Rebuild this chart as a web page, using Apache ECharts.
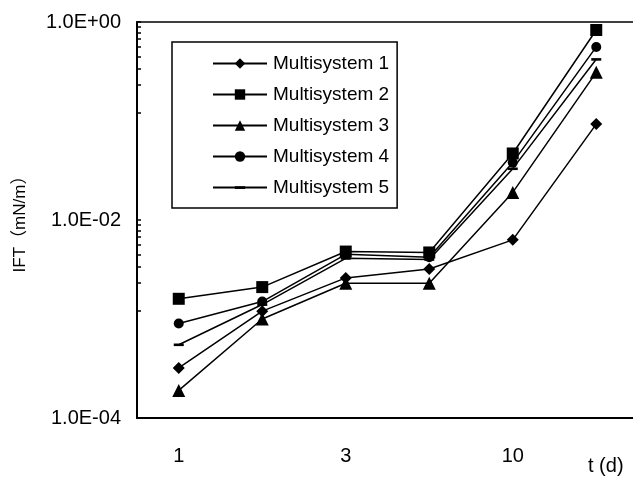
<!DOCTYPE html>
<html>
<head>
<meta charset="utf-8">
<script src="https://cdn.jsdelivr.net/npm/echarts@6/dist/echarts.min.js"></script>
<style>
  html, body { margin: 0; padding: 0; background: #fff; }
  #chart { width: 633px; height: 477px; }
</style>
</head>
<body>
<div id="chart"></div>
<script>
// t (d), only every other one is labelled
const days = ['1', '2', '3', '5', '10', '20'];
const names = ['Multisystem 1', 'Multisystem 2', 'Multisystem 3', 'Multisystem 4', 'Multisystem 5'];
const ms1 = [3.2e-4, 1.2e-3, 2.6e-3, 3.2e-3, 6.3e-3, 9.3e-2];
const ms2 = [1.6e-3, 2.1e-3, 4.8e-3, 4.7e-3, 4.7e-2, 0.83];
const ms3 = [1.9e-4, 1.0e-3, 2.3e-3, 2.3e-3, 1.9e-2, 0.31];
const ms4 = [9.0e-4, 1.5e-3, 4.5e-3, 4.2e-3, 3.8e-2, 0.56];
const ms5 = [5.5e-4, 1.4e-3, 4.1e-3, 4.0e-3, 3.3e-2, 0.42];

// short dash marker, square bounding box so it keeps its shape
const dash = 'path://M0,0M10,10M0,3.8H10V6.4H0Z';
const symbols = ['diamond', 'rect', 'triangle', 'circle', dash];
const symbolSizes = [12, 12, 13, 10, 10];

const font = 'Arial, "Liberation Sans", sans-serif';

function sci(v) {
  let e = Math.round(Math.log10(v));
  let s = e < 0 ? '-' : '+';
  let a = Math.abs(e);
  return '1.0E' + s + (a < 10 ? '0' + a : a);
}

let chart = echarts.init(document.getElementById('chart'));
chart.setOption({
  animation: false,
  color: ['#000'],
  title: {
    text: 't (d)',
    left: 588,
    top: 456,
    padding: 0,
    textStyle: { fontFamily: font, fontSize: 20, fontWeight: 'normal', color: '#000' }
  },
  grid: {
    left: 137,
    top: 22,
    bottom: 59,
    width: 501,
    outerBoundsMode: 'none',
    show: true,
    borderColor: '#000',
    borderWidth: 1.5
  },
  legend: {
    orient: 'vertical',
    left: 172,
    top: 42,
    data: names,
    itemWidth: 54,
    itemHeight: 13,
    itemGap: 12,
    padding: [12, 8, 11, 40],
    borderColor: '#000',
    borderWidth: 1.5,
    backgroundColor: '#fff',
    textStyle: { fontFamily: font, fontSize: 19, color: '#000', padding: [0, 0, 0, 1] }
  },
  xAxis: [{
    type: 'category',
    data: days,
    boundaryGap: true,
    axisLine: { lineStyle: { color: '#000', width: 2 } },
    axisTick: { inside: true, length: 5, lineStyle: { color: '#000', width: 1.5 } },
    axisLabel: { interval: 1, margin: 28, fontFamily: font, fontSize: 20, color: '#000' }
  }, {
    type: 'category',
    data: days,
    position: 'bottom',
    boundaryGap: true,
    axisLine: { show: false },
    axisTick: { inside: true, alignWithLabel: true, length: 3, lineStyle: { color: '#000', width: 1.5 } },
    axisLabel: { show: false }
  }],
  yAxis: {
    type: 'log',
    logBase: 100,
    min: 1e-4,
    max: 1,
    name: 'IFT（mN/m）',
    nameLocation: 'middle',
    nameRotate: 90,
    nameGap: 108,
    nameTextStyle: { fontFamily: 'Arial, "Noto Sans CJK SC", sans-serif', fontSize: 17, color: '#000' },
    axisLine: { show: true, lineStyle: { color: '#000', width: 2 } },
    axisTick: { show: true, inside: true, length: 4, lineStyle: { color: '#000', width: 1.5 } },
    minorTick: { show: true, splitNumber: 9, length: 4, lineStyle: { color: '#000', width: 1.5 } },
    splitLine: { show: false },
    axisLabel: { margin: 16, fontFamily: font, fontSize: 20, color: '#000', formatter: sci }
  },
  series: [ms1, ms2, ms3, ms4, ms5].map(function (d, i) {
    return {
      name: names[i],
      type: 'line',
      data: d,
      symbol: symbols[i],
      symbolSize: symbolSizes[i],
      showAllSymbol: true,
      lineStyle: { color: '#000', width: 1.5 },
      itemStyle: { color: '#000', borderWidth: 0 }
    };
  })
});
window.addEventListener('resize', function () {
  chart.resize();
});
</script>
</body>
</html>
